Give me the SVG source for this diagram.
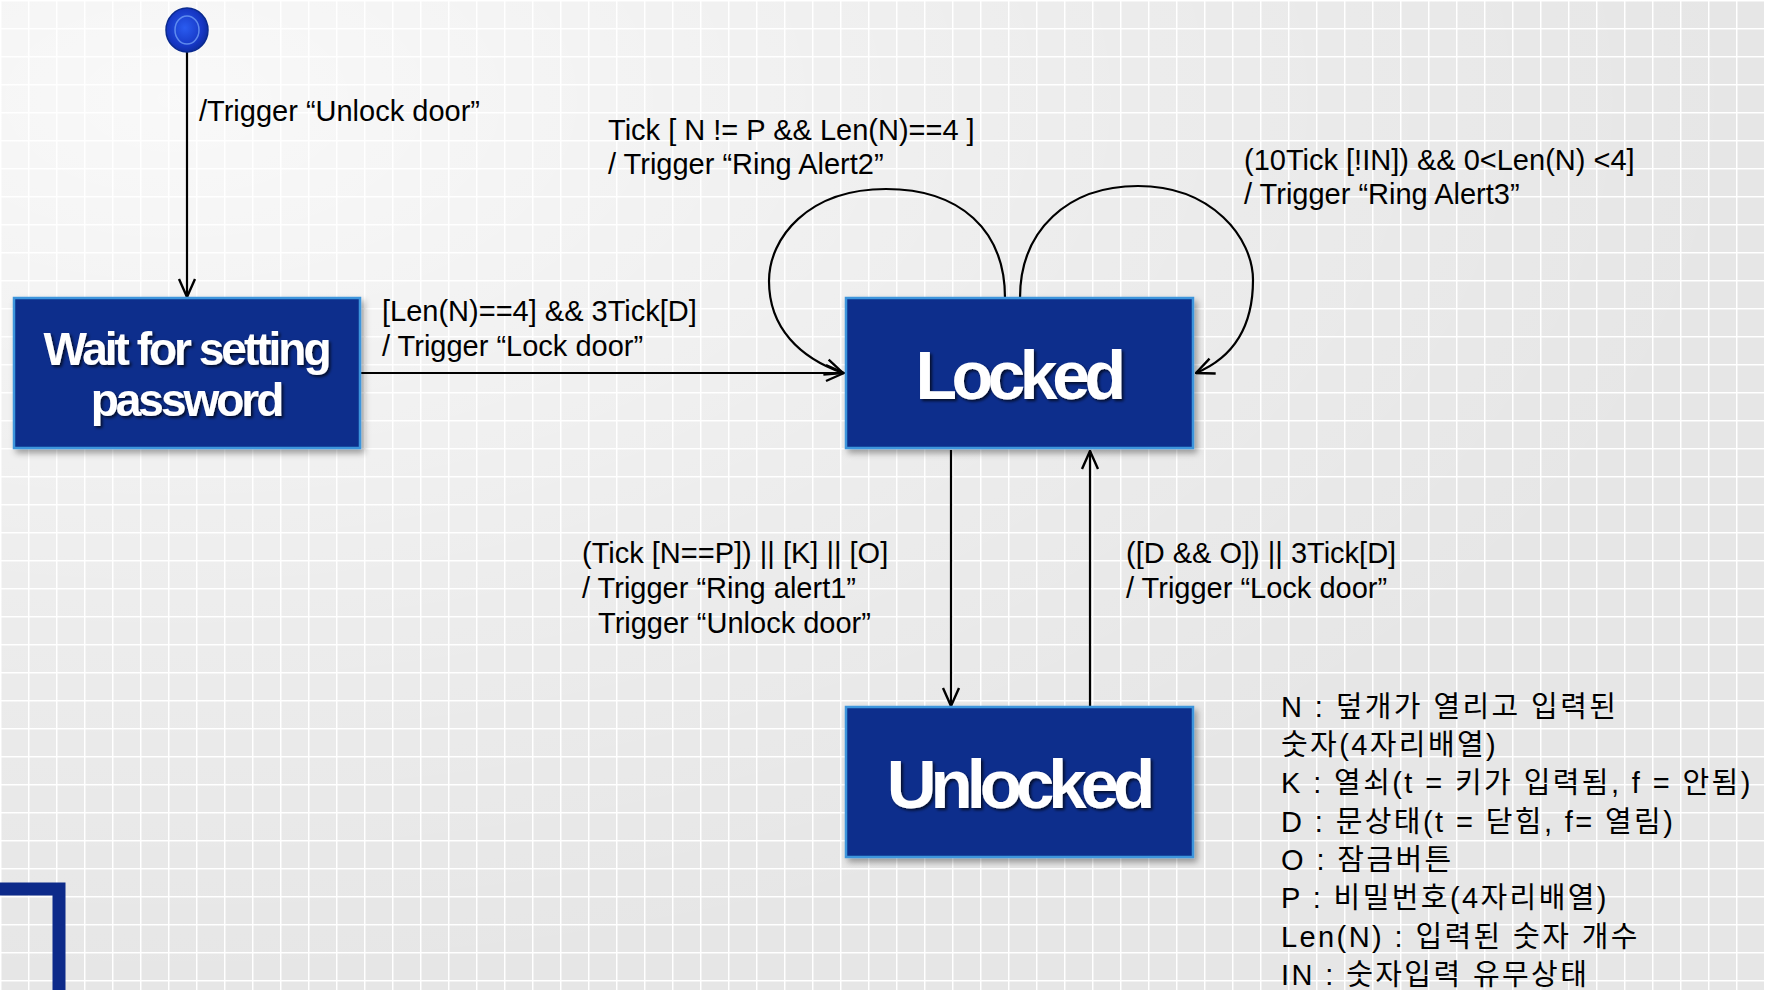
<svg xmlns="http://www.w3.org/2000/svg" width="1765" height="990" viewBox="0 0 1765 990">
<defs>
<pattern id="grid" width="28" height="28" patternUnits="userSpaceOnUse">
<rect width="28" height="28" fill="#e6e6e6"/>
<path d="M0,0.5 H28 M0.5,0 V28" stroke="#ffffff" stroke-width="2" fill="none"/>
</pattern>
<radialGradient id="glow" cx="0.1" cy="0.1" r="0.9">
<stop offset="0" stop-color="#ffffff" stop-opacity="0.75"/>
<stop offset="0.6" stop-color="#ffffff" stop-opacity="0.25"/>
<stop offset="1" stop-color="#ffffff" stop-opacity="0"/>
</radialGradient>
<radialGradient id="init" cx="0.45" cy="0.45" r="0.6">
<stop offset="0" stop-color="#2a5cf0"/>
<stop offset="0.7" stop-color="#1637c4"/>
<stop offset="1" stop-color="#0c2a9a"/>
</radialGradient>
<filter id="boxShadow" x="-10%" y="-10%" width="130%" height="130%">
<feDropShadow dx="3" dy="4" stdDeviation="3" flood-color="#000" flood-opacity="0.35"/>
</filter>
<filter id="txtShadow" x="-10%" y="-20%" width="130%" height="150%">
<feDropShadow dx="2" dy="2" stdDeviation="1.5" flood-color="#000" flood-opacity="0.7"/>
</filter>
<marker id="arr" viewBox="0 0 20 20" refX="19" refY="10" markerWidth="20" markerHeight="20" markerUnits="userSpaceOnUse" orient="auto">
<path d="M1,2 L19,10 L1,18" fill="none" stroke="#000" stroke-width="2.4"/>
</marker>
</defs>
<style>
.state{fill:#0b2f8c;stroke:#3d95dc;stroke-width:2.5;filter:url(#boxShadow)}
.stext{font-family:"Liberation Sans",Arial,sans-serif;font-weight:bold;fill:#ffffff;text-anchor:middle;filter:url(#txtShadow)}
.lbl{font-family:"Liberation Sans",Arial,sans-serif;font-size:29px;fill:#000}
.leg{font-family:"Liberation Sans","Noto Sans CJK KR",sans-serif;font-size:29px;fill:#000;letter-spacing:2.4px}
.edge{fill:none;stroke:#000;stroke-width:2.2;marker-end:url(#arr)}
</style>
<rect width="1765" height="990" fill="url(#grid)"/>
<rect width="1765" height="990" fill="url(#glow)"/>

<g id="corner-shape">
<path d="M0,889 H59 V990" fill="none" stroke="#0d2a8a" stroke-width="13"/>
</g>

<g id="connectors">
<path class="edge" d="M187,52 V297"/>
<path class="edge" d="M361,373 H844"/>
<path class="edge" d="M1005,298 C1005,230 960,189 886,189 C808,189 769,238 769,281 C769,328 800,358 843,373"/>
<path class="edge" d="M1020,298 C1020,230 1068,186 1138,186 C1212,186 1253,238 1253,280 C1253,328 1232,358 1196,373"/>
<path class="edge" d="M951,450 V706"/>
<path class="edge" d="M1090,706 V451"/>
<text class="lbl" x="199" y="121">/Trigger “Unlock door”</text>
<text class="lbl" x="382" y="321">[Len(N)==4] &amp;&amp; 3Tick[D]</text>
<text class="lbl" x="382" y="356">/ Trigger “Lock door”</text>
<text class="lbl" x="608" y="140">Tick [ N != P &amp;&amp; Len(N)==4 ]</text>
<text class="lbl" x="608" y="174">/ Trigger “Ring Alert2”</text>
<text class="lbl" x="1244" y="170">(10Tick [!IN]) &amp;&amp; 0&lt;Len(N) &lt;4]</text>
<text class="lbl" x="1244" y="204">/ Trigger “Ring Alert3”</text>
<text class="lbl" x="582" y="563">(Tick [N==P]) || [K] || [O]</text>
<text class="lbl" x="582" y="598">/ Trigger “Ring alert1”</text>
<text class="lbl" x="598" y="633">Trigger “Unlock door”</text>
<text class="lbl" x="1126" y="563">([D &amp;&amp; O]) || 3Tick[D]</text>
<text class="lbl" x="1126" y="598">/ Trigger “Lock door”</text>
</g>

<g id="initial">
<ellipse cx="187" cy="30" rx="21" ry="22" fill="url(#init)" stroke="#0a2a8f" stroke-width="1.5"/>
<ellipse cx="187" cy="30" rx="12" ry="14" fill="none" stroke="#6f9cf5" stroke-width="1.5" opacity="0.8"/>
</g>

<g id="wait">
<rect class="state" x="14" y="298" width="346" height="150"/>
<text class="stext" x="186" y="365" font-size="46" letter-spacing="-3">Wait for setting</text>
<text class="stext" x="186" y="416" font-size="46" letter-spacing="-3">password</text>
</g>

<g id="locked">
<rect class="state" x="846" y="298" width="347" height="150"/>
<text class="stext" x="1018" y="399" font-size="68" letter-spacing="-5.5">Locked</text>
</g>

<g id="unlocked">
<rect class="state" x="846" y="707" width="347" height="150"/>
<text class="stext" x="1018" y="808" font-size="69" letter-spacing="-6">Unlocked</text>
</g>

<g id="legend">
<text class="leg" x="1281" y="717">N : 덮개가 열리고 입력된</text>
<text class="leg" x="1281" y="755">숫자(4자리배열)</text>
<text class="leg" x="1281" y="793">K : 열쇠(t = 키가 입력됨, f = 안됨)</text>
<text class="leg" x="1281" y="832">D : 문상태(t = 닫힘, f= 열림)</text>
<text class="leg" x="1281" y="870">O : 잠금버튼</text>
<text class="leg" x="1281" y="908">P : 비밀번호(4자리배열)</text>
<text class="leg" x="1281" y="947">Len(N) : 입력된 숫자 개수</text>
<text class="leg" x="1281" y="985">IN : 숫자입력 유무상태</text>
</g>
</svg>
